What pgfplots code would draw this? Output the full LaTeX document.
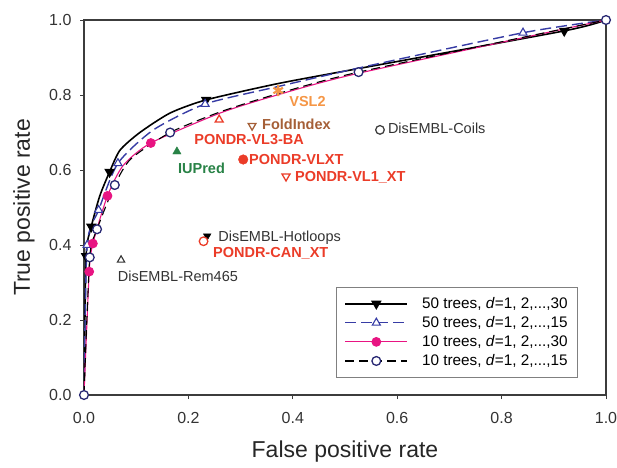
\documentclass[border=0pt]{standalone}
\usepackage{fontspec}
\setmainfont{Liberation Sans}
\usepackage{pgfplots}
\pgfplotsset{compat=1.18}

\definecolor{axgray}{RGB}{60,60,60}
\definecolor{blueln}{RGB}{55,60,165}
\definecolor{navy}{RGB}{40,40,115}
\definecolor{pinkln}{RGB}{232,20,130}
\definecolor{redlab}{RGB}{235,60,40}
\definecolor{orangelab}{RGB}{245,150,70}
\definecolor{brownlab}{RGB}{165,95,55}
\definecolor{greenlab}{RGB}{40,130,70}

\newcommand{\lab}{\fontsize{14.5}{17}\selectfont}

\begin{document}
\begin{tikzpicture}
\begin{axis}[
  scale only axis,
  width=522pt, height=375pt,
  xmin=0, xmax=1, ymin=0, ymax=1,
  xtick={0,0.2,...,1.0}, ytick={0,0.2,...,1.0},
  /pgf/number format/fixed,
  /pgf/number format/fixed zerofill,
  /pgf/number format/precision=1,
  /pgf/number format/assume math mode=true,
  tick label style={font=\fontsize{16}{19}\selectfont, text=black!80},
  xticklabel style={yshift=-10pt},
  yticklabel style={xshift=-5pt},
  tick align=outside, tick pos=left,
  major tick length=4pt,
  every tick/.style={axgray, line width=0.8pt},
  axis line style={axgray, line width=1.5pt},
  xlabel={False positive rate},
  ylabel={True positive rate},
  every axis x label/.style={at={(axis description cs:0.5,0)}, yshift=-57pt, anchor=center,
    font=\fontsize{23}{27}\selectfont, text=black!85},
  every axis y label/.style={at={(axis description cs:0,0.5)}, xshift=-60pt, rotate=90, anchor=center,
    font=\fontsize{23}{27}\selectfont, text=black!85},
  legend cell align=left,
  legend style={at={(axis description cs:0.483,0.288)}, anchor=north west,
    draw=gray, line width=0.8pt, font=\fontsize{15.3}{18}\selectfont, inner xsep=8pt, inner ysep=8pt,
    column sep=12pt, row sep=2.5pt},
  legend image code/.code={%
    \draw[mark indices={2}] plot coordinates {(0pt,0pt) (31pt,0pt) (62pt,0pt)};},
]
\coordinate (sw) at (rel axis cs:0,0);
\coordinate (ne) at (rel axis cs:1,1);

% 50 trees, d=1..30
\addplot[black, line width=1.6pt, smooth, tension=0.4, mark=triangle*,
  mark size=4.6pt, mark options={black, rotate=180},
  mark indices={2,3,5,9,12}] coordinates {
  (0,0) (0.004,0.37) (0.014,0.449) (0.030,0.530) (0.049,0.595)
  (0.069,0.653) (0.107,0.700) (0.165,0.752) (0.234,0.787)
  (0.370,0.830) (0.520,0.869) (0.920,0.971) (1,1)
};
\addlegendentry{50 trees, \textit{d}=1, 2,...,30}

% 50 trees, d=1..15
\addplot[blueln, line width=1.4pt, dash pattern=on 11pt off 5pt, smooth, tension=0.4,
  mark=triangle*, mark size=4.6pt, mark options={solid, blueln, fill=white, line width=1.1pt},
  mark indices={2,3,4,6,9}] coordinates {
  (0,0) (0.006,0.40) (0.028,0.493) (0.065,0.618) (0.133,0.707)
  (0.232,0.776) (0.370,0.822) (0.526,0.872) (0.841,0.966) (1,1)
};
\addlegendentry{50 trees, \textit{d}=1, 2,...,15}

% 10 trees, d=1..30
\addplot[pinkln, line width=1.1pt, smooth, tension=0.4, mark=*,
  mark size=4.3pt, mark options={pinkln},
  mark indices={2,3,4,6}] coordinates {
  (0,0) (0.010,0.329) (0.017,0.404) (0.045,0.531) (0.075,0.612)
  (0.128,0.672) (0.261,0.752) (0.370,0.800) (0.526,0.858) (1,1)
};
\addlegendentry{10 trees, \textit{d}=1, 2,...,30}

% 10 trees, d=1..15
\addplot[black, line width=1.1pt, dash pattern=on 9pt off 5pt, smooth, tension=0.4,
  mark=*, mark size=4.4pt, mark options={solid, draw=navy, fill=white, line width=1.3pt},
  mark indices={1,2,3,4,6,9,10}] coordinates {
  (0,0) (0.011,0.367) (0.025,0.442) (0.059,0.560) (0.090,0.630)
  (0.165,0.700) (0.261,0.755) (0.370,0.803) (0.526,0.861) (1,1)
};
\addlegendentry{10 trees, \textit{d}=1, 2,...,15}

% other predictors
\addplot[forget plot, only marks, mark=*, mark size=4.3pt, mark options={draw=black!75, fill=white, line width=1.3pt}]
  coordinates {(0.567,0.707)};
\addplot[forget plot, only marks, mark=asterisk, mark size=5.5pt, mark options={orangelab, line width=2.2pt}]
  coordinates {(0.372,0.812)};
\addplot[forget plot, only marks, mark=triangle*, mark size=4.4pt, mark options={draw=brownlab, fill=white, rotate=180, line width=1.3pt}]
  coordinates {(0.322,0.718)};
\addplot[forget plot, only marks, mark=triangle*, mark size=4.6pt, mark options={draw=redlab, fill=white, line width=1.3pt}]
  coordinates {(0.259,0.734)};
\addplot[forget plot, only marks, mark=triangle*, mark size=4.8pt, mark options={greenlab}]
  coordinates {(0.178,0.649)};
\addplot[forget plot, only marks, mark=*, mark size=4.8pt, mark options={redlab}]
  coordinates {(0.305,0.628)};
\addplot[forget plot, only marks, mark=triangle*, mark size=4.6pt, mark options={draw=redlab, fill=white, rotate=180, line width=1.3pt}]
  coordinates {(0.387,0.583)};
\addplot[forget plot, only marks, mark=triangle*, mark size=4.4pt, mark options={black, rotate=180}]
  coordinates {(0.236,0.424)};
\addplot[forget plot, only marks, mark=*, mark size=4.3pt, mark options={draw=redlab, fill=white, line width=1.3pt}]
  coordinates {(0.229,0.410)};
\addplot[forget plot, only marks, mark=triangle*, mark size=4.2pt, mark options={draw=black!80, fill=white, line width=1.1pt}]
  coordinates {(0.071,0.360)};

\node[anchor=west, inner sep=0pt, font=\lab, text=black!80] at (axis cs:0.582,0.711) {DisEMBL-Coils};
\node[anchor=west, inner sep=0pt, font=\lab\bfseries, text=orangelab] at (axis cs:0.393,0.782) {VSL2};
\node[anchor=west, inner sep=0pt, font=\lab\bfseries, text=brownlab] at (axis cs:0.341,0.723) {FoldIndex};
\node[anchor=west, inner sep=0pt, font=\lab\bfseries, text=redlab] at (axis cs:0.211,0.680) {PONDR-VL3-BA};
\node[anchor=west, inner sep=0pt, font=\lab\bfseries, text=greenlab] at (axis cs:0.180,0.605) {IUPred};
\node[anchor=west, inner sep=0pt, font=\lab\bfseries, text=redlab] at (axis cs:0.316,0.627) {PONDR-VLXT};
\node[anchor=west, inner sep=0pt, font=\lab\bfseries, text=redlab] at (axis cs:0.404,0.581) {PONDR-VL1\_XT};
\node[anchor=west, inner sep=0pt, font=\lab, text=black!80] at (axis cs:0.257,0.420) {DisEMBL-Hotloops};
\node[anchor=west, inner sep=0pt, font=\lab\bfseries, text=redlab] at (axis cs:0.247,0.378) {PONDR-CAN\_XT};
\node[anchor=west, inner sep=0pt, font=\lab, text=black!80] at (axis cs:0.0645,0.317) {DisEMBL-Rem465};
\end{axis}
\pgfresetboundingbox
\path ([xshift=-84pt,yshift=-72pt]sw) rectangle ([xshift=11pt,yshift=20pt]ne);
\end{tikzpicture}
\end{document}
